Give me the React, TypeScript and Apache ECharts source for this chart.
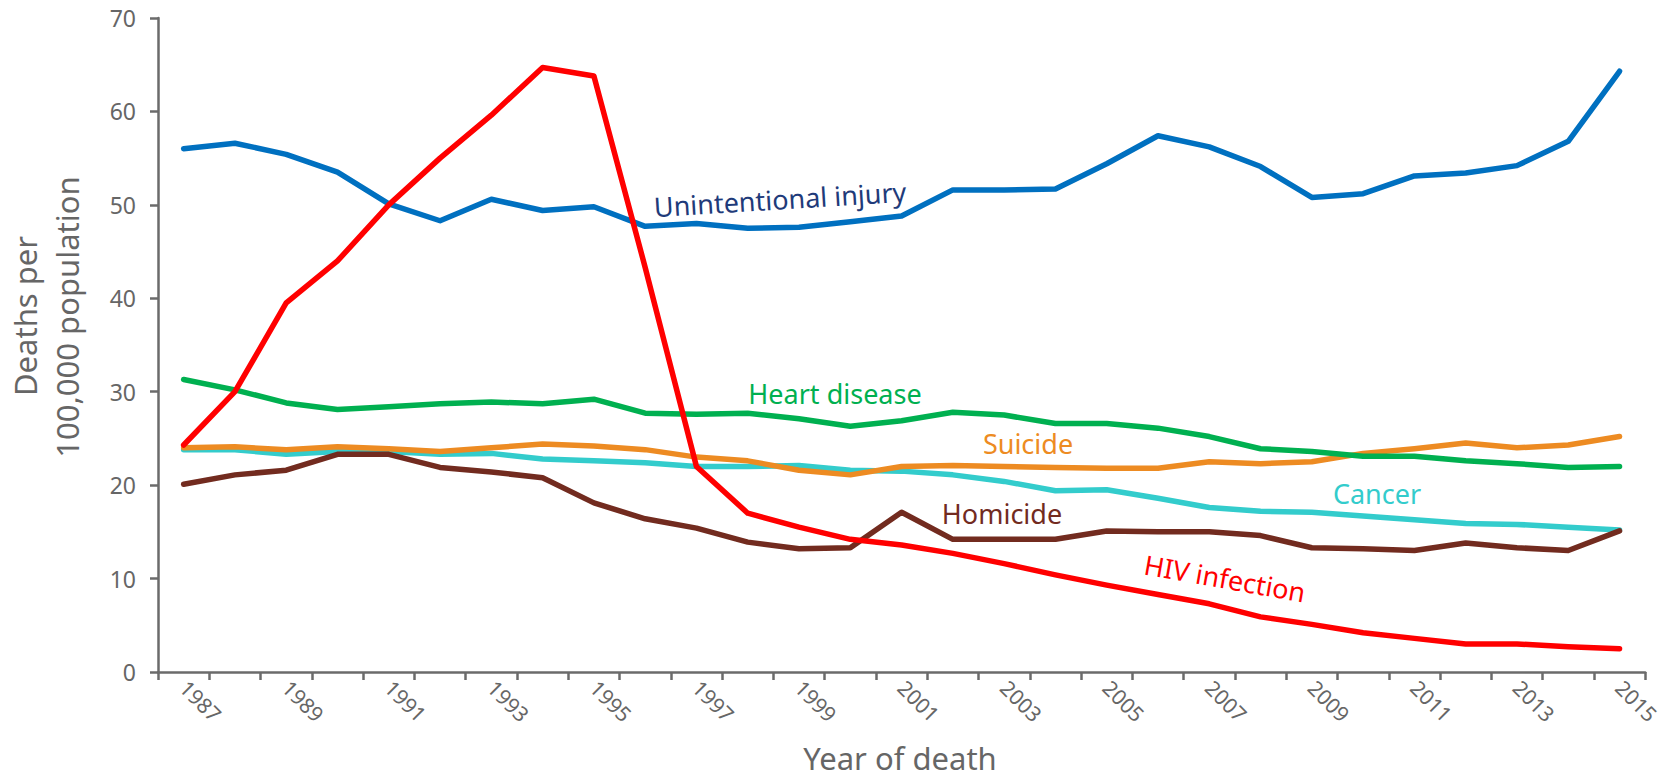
import React, { useEffect, useRef } from "react";
import * as echarts from "echarts";

const years = [
  "1987", "1988", "1989", "1990", "1991", "1992", "1993", "1994", "1995", "1996",
  "1997", "1998", "1999", "2000", "2001", "2002", "2003", "2004", "2005", "2006",
  "2007", "2008", "2009", "2010", "2011", "2012", "2013", "2014", "2015",
];

const unintentionalInjury = [
  56.0, 56.6, 55.4, 53.5, 50.1, 48.3, 50.6, 49.4, 49.8, 47.7,
  48.0, 47.5, 47.6, 48.2, 48.8, 51.6, 51.6, 51.7, 54.4, 57.4,
  56.2, 54.1, 50.8, 51.2, 53.1, 53.4, 54.2, 56.8, 64.3,
];
const hivInfection = [
  24.3, 30.0, 39.5, 44.0, 50.0, 55.0, 59.6, 64.7, 63.8, 43.3,
  22.0, 17.0, 15.5, 14.2, 13.6, 12.7, 11.6, 10.4, 9.3, 8.3,
  7.3, 5.9, 5.1, 4.2, 3.6, 3.0, 3.0, 2.7, 2.5,
];
const heartDisease = [
  31.3, 30.2, 28.8, 28.1, 28.4, 28.7, 28.9, 28.7, 29.2, 27.7,
  27.6, 27.7, 27.1, 26.3, 26.9, 27.8, 27.5, 26.6, 26.6, 26.1,
  25.2, 23.9, 23.6, 23.1, 23.1, 22.6, 22.3, 21.9, 22.0,
];
const suicide = [
  24.0, 24.1, 23.8, 24.1, 23.9, 23.6, 24.0, 24.4, 24.2, 23.8,
  23.0, 22.6, 21.6, 21.1, 22.0, 22.1, 22.0, 21.9, 21.8, 21.8,
  22.5, 22.3, 22.5, 23.4, 23.9, 24.5, 24.0, 24.3, 25.2,
];
const cancer = [
  23.8, 23.8, 23.3, 23.6, 23.6, 23.3, 23.4, 22.8, 22.6, 22.4,
  22.0, 22.0, 22.1, 21.6, 21.5, 21.1, 20.4, 19.4, 19.5, 18.6,
  17.6, 17.2, 17.1, 16.7, 16.3, 15.9, 15.8, 15.5, 15.2,
];
const homicide = [
  20.1, 21.1, 21.6, 23.3, 23.3, 21.9, 21.4, 20.8, 18.1, 16.4,
  15.4, 13.9, 13.2, 13.3, 17.1, 14.2, 14.2, 14.2, 15.1, 15.0,
  15.0, 14.6, 13.3, 13.2, 13.0, 13.8, 13.3, 13.0, 15.1,
];

const FONT = "Noto Sans";

export default function App() {
  const ref = useRef<HTMLDivElement>(null);

  useEffect(() => {
    if (!ref.current) return;
    const chart = echarts.init(ref.current, undefined, { renderer: "svg" });

    const mkLine = (name: string, data: number[], color: string) => ({
      name,
      type: "line",
      data,
      symbol: "none",
      lineStyle: { width: 5.5, color, cap: "round", join: "round" },
      itemStyle: { color },
    });

    const label = (
      text: string,
      x: number,
      y: number,
      color: string,
      rotDeg = 0
    ) => ({
      type: "text",
      x,
      y,
      rotation: (rotDeg * Math.PI) / 180,
      style: {
        text,
        fill: color,
        font: `27px "${FONT}"`,
        align: "center",
        verticalAlign: "middle",
      },
      z: 100,
    });

    chart.setOption({
      animation: false,
      backgroundColor: "#ffffff",
      grid: { left: 158, right: 15, top: 18, bottom: 108, containLabel: false },
      xAxis: {
        type: "category",
        data: years,
        boundaryGap: true,
        axisLine: { show: true, lineStyle: { color: "#6b6b6b", width: 2.5 } },
        axisTick: { show: true, interval: 0, length: 8, lineStyle: { color: "#6b6b6b", width: 2.5 } },
        axisLabel: {
          interval: 1,
          rotate: -45,
          margin: 12,
          color: "#666666",
          fontSize: 21,
          fontFamily: FONT,
        },
        splitLine: { show: false },
      },
      yAxis: {
        type: "value",
        min: 0,
        max: 70,
        interval: 10,
        axisLine: { show: true, lineStyle: { color: "#6b6b6b", width: 2.5 } },
        axisTick: { show: true, length: 8, lineStyle: { color: "#6b6b6b", width: 2.5 } },
        axisLabel: { margin: 22, color: "#666666", fontSize: 23, fontFamily: FONT },
        splitLine: { show: false },
      },
      series: [
        mkLine("Cancer", cancer, "#33CCCC"),
        mkLine("Suicide", suicide, "#ED8B22"),
        mkLine("Homicide", homicide, "#722B1F"),
        mkLine("Heart disease", heartDisease, "#00B050"),
        mkLine("Unintentional injury", unintentionalInjury, "#0070C0"),
        mkLine("HIV infection", hivInfection, "#FF0000"),
      ],
      graphic: [
        label("Unintentional injury", 780, 199, "#1F3B7A", 3.5),
        label("Heart disease", 835, 393, "#00B050"),
        label("Suicide", 1028, 443, "#ED8B22"),
        label("Homicide", 1002, 513, "#722B1F"),
        label("Cancer", 1377, 493, "#33CCCC"),
        label("HIV infection", 1225, 578, "#FF0000", -10),
        {
          type: "text",
          x: 25,
          y: 316,
          rotation: Math.PI / 2,
          style: {
            text: "Deaths per",
            fill: "#666666",
            font: `31px "${FONT}"`,
            align: "center",
            verticalAlign: "middle",
          },
        },
        {
          type: "text",
          x: 67,
          y: 317,
          rotation: Math.PI / 2,
          style: {
            text: "100,000 population",
            fill: "#666666",
            font: `31px "${FONT}"`,
            align: "center",
            verticalAlign: "middle",
          },
        },
        {
          type: "text",
          x: 900,
          y: 758,
          style: {
            text: "Year of death",
            fill: "#666666",
            font: `31px "${FONT}"`,
            align: "center",
            verticalAlign: "middle",
          },
        },
      ],
    });

    return () => chart.dispose();
  }, []);

  return (
    <div
      ref={ref}
      style={{ position: "absolute", left: 0, top: 0, width: 1663, height: 780 }}
    />
  );
}
